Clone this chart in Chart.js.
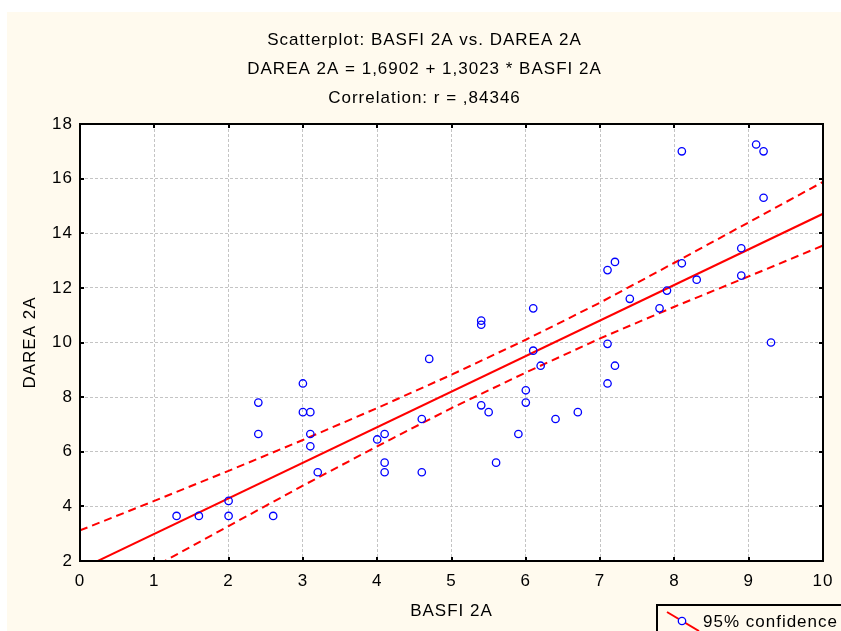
<!DOCTYPE html>
<html>
<head>
<meta charset="utf-8">
<title>Scatterplot: BASFI 2A vs. DAREA 2A</title>
<script src="https://cdn.jsdelivr.net/npm/chart.js@4.4.1/dist/chart.umd.min.js"></script>
<style>
  html, body { margin: 0; padding: 0; background: #ffffff; }
  canvas { display: block; }
</style>
</head>
<body>
<canvas id="chart" width="841" height="631"></canvas>
<script>
// Observations (BASFI 2A, DAREA 2A)
const basfi = [1.3, 1.6, 2.0, 2.0, 2.4, 2.4, 2.6, 3.0, 3.0, 3.1, 3.1, 3.1, 3.2,
               4.0, 4.1, 4.1, 4.1, 4.6, 4.6, 4.7, 5.4, 5.4, 5.4, 5.5, 5.6, 5.9,
               6.0, 6.0, 6.1, 6.1, 6.2, 6.4, 6.7, 7.1, 7.2, 7.1, 9.3, 7.8, 8.1,
               9.1, 9.2, 9.2, 8.9, 8.9, 8.1, 8.3, 7.9, 7.4, 7.1, 7.2];
const darea = [3.65, 3.65, 4.2, 3.65, 7.8, 6.65, 3.65, 8.5, 7.45, 7.45, 6.65, 6.2, 5.25,
               6.45, 6.65, 5.6, 5.25, 7.2, 5.25, 9.4, 10.8, 10.65, 7.7, 7.45, 5.6, 6.65,
               8.25, 7.8, 11.25, 9.7, 9.15, 7.2, 7.45, 9.95, 9.15, 8.5, 10.0, 11.25, 17.0,
               17.25, 17.0, 15.3, 13.45, 12.45, 12.9, 12.3, 11.9, 11.6, 12.65, 12.95];

// Fitted line: DAREA 2A = 1,6902 + 1,3023 * BASFI 2A
const intercept = 1.6902;
const slope = 1.3023;

// 95% confidence band of the fit
const bandX     = [0, 1, 2, 3, 4, 5, 6, 7, 8, 9, 10];
const bandUpper = [3.12, 4.20, 5.30, 6.43, 7.60, 8.82, 10.10, 11.46, 12.92, 14.40, 15.88];
const bandLower = [0.27, 1.79, 3.28, 4.76, 6.20, 7.60, 8.90, 10.15, 11.31, 12.42, 13.55];

// Axis ranges and text
const xRange = [0, 10, 1];
const yRange = [2, 18, 2];
const titleLines = ['Scatterplot: BASFI 2A vs. DAREA 2A',
                    'DAREA 2A = 1,6902 + 1,3023 * BASFI 2A',
                    'Correlation: r = ,84346'];
const xTitle = 'BASFI 2A';
const yTitle = 'DAREA 2A';
const legendText = '95% confidence';

const FONT = 'Liberation Sans, Arial, sans-serif';
const CREAM = '#fffaee';
const RED = '#ff0000';
const BLUE = '#0000ff';

const points = basfi.map((x, i) => ({ x: x, y: darea[i] }));
const fitLine = [
  { x: xRange[0], y: intercept + slope * xRange[0] },
  { x: xRange[1], y: intercept + slope * xRange[1] }
];
const upper = bandX.map((x, i) => ({ x: x, y: bandUpper[i] }));
const lower = bandX.map((x, i) => ({ x: x, y: bandLower[i] }));

// Slightly open letter spacing for all canvas text
const spacing = {
  id: 'spacing',
  beforeLayout(chart) { chart.ctx.letterSpacing = '1px'; },
  beforeDraw(chart) { chart.ctx.letterSpacing = '1px'; }
};

// Cream page with a white plotting area
const backdrop = {
  id: 'backdrop',
  beforeDraw(chart) {
    const { ctx, chartArea: a, width, height } = chart;
    ctx.save();
    ctx.fillStyle = CREAM;
    ctx.fillRect(7, 12, width - 7, height - 12);
    ctx.fillStyle = '#ffffff';
    ctx.fillRect(a.left, a.top, a.right - a.left, a.bottom - a.top);
    ctx.restore();
  }
};

// Black frame with inward tick marks on all four sides, plus the legend box
const frame = {
  id: 'frame',
  afterDraw(chart) {
    const { ctx, chartArea: a } = chart;
    const xs = chart.scales.x, ys = chart.scales.y;
    ctx.save();
    ctx.strokeStyle = '#000000';
    ctx.lineWidth = 2;
    ctx.strokeRect(a.left, a.top, a.right - a.left, a.bottom - a.top);
    ctx.beginPath();
    xs.ticks.forEach(t => {
      const px = Math.round(xs.getPixelForValue(t.value));
      ctx.moveTo(px, a.bottom); ctx.lineTo(px, a.bottom - 4);
      ctx.moveTo(px, a.top); ctx.lineTo(px, a.top + 4);
    });
    ys.ticks.forEach(t => {
      const py = Math.round(ys.getPixelForValue(t.value));
      ctx.moveTo(a.left, py); ctx.lineTo(a.left + 4, py);
      ctx.moveTo(a.right, py); ctx.lineTo(a.right - 4, py);
    });
    ctx.stroke();

    // legend
    const lx = 657, ly = 605;
    ctx.fillStyle = CREAM;
    ctx.fillRect(lx, ly, chart.width - lx + 5, chart.height - ly + 5);
    ctx.strokeStyle = '#000000';
    ctx.lineWidth = 2;
    ctx.strokeRect(lx, ly, chart.width - lx + 5, chart.height - ly + 5);
    ctx.strokeStyle = RED;
    ctx.beginPath();
    ctx.moveTo(667, 612);
    ctx.lineTo(699, 631);
    ctx.stroke();
    ctx.fillStyle = '#ffffff';
    ctx.strokeStyle = BLUE;
    ctx.lineWidth = 1.3;
    ctx.beginPath();
    ctx.arc(682, 621, 3.7, 0, Math.PI * 2);
    ctx.fill();
    ctx.stroke();
    ctx.fillStyle = '#000000';
    ctx.font = '17px ' + FONT;
    ctx.textBaseline = 'middle';
    ctx.textAlign = 'left';
    ctx.fillText(legendText, 703, 622);
    ctx.restore();
  }
};

new Chart(document.getElementById('chart'), {
  type: 'scatter',
  data: {
    datasets: [
      {
        label: 'Upper 95%',
        type: 'line',
        data: upper,
        borderColor: RED,
        borderWidth: 2,
        borderDash: [8, 5],
        pointRadius: 0,
        fill: false,
        clip: 0,
        order: 1
      },
      {
        label: 'Lower 95%',
        type: 'line',
        data: lower,
        borderColor: RED,
        borderWidth: 2,
        borderDash: [8, 5],
        pointRadius: 0,
        fill: false,
        clip: 0,
        order: 1
      },
      {
        label: 'Fit',
        type: 'line',
        data: fitLine,
        borderColor: RED,
        borderWidth: 2,
        pointRadius: 0,
        fill: false,
        clip: 0,
        order: 1
      },
      {
        label: 'DAREA 2A',
        data: points,
        pointStyle: 'circle',
        pointRadius: 3.7,
        pointBorderWidth: 1.3,
        borderColor: BLUE,
        backgroundColor: 'rgba(0,0,0,0)',
        clip: 0,
        order: 0
      }
    ]
  },
  options: {
    responsive: false,
    animation: false,
    devicePixelRatio: 1,
    layout: { padding: { left: 26, right: 18, top: 12, bottom: 0 } },
    plugins: {
      legend: { display: false },
      tooltip: { enabled: false },
      title: {
        display: true,
        text: titleLines,
        color: '#000000',
        font: { family: FONT, size: 17, weight: 'normal', lineHeight: 29 / 17 },
        padding: { top: 13.5, bottom: 11.5 }
      }
    },
    scales: {
      x: {
        type: 'linear',
        min: xRange[0],
        max: xRange[1],
        afterFit(scale) {
          scale.height = 70;
          scale.paddingLeft = 0;
          scale.paddingRight = 0;
        },
        ticks: {
          stepSize: xRange[2],
          color: '#000000',
          padding: 10,
          font: { family: FONT, size: 17 },
          maxRotation: 0
        },
        grid: { color: '#c4c4c4', lineWidth: 1, drawTicks: false },
        border: { display: false, dash: [3, 2] },
        title: {
          display: true,
          text: xTitle,
          color: '#000000',
          font: { family: FONT, size: 17 },
          padding: { top: 0, bottom: 9.8 }
        }
      },
      y: {
        type: 'linear',
        min: yRange[0],
        max: yRange[1],
        afterFit(scale) {
          scale.width = 54;
          scale.paddingTop = 0;
          scale.paddingBottom = 0;
        },
        ticks: {
          stepSize: yRange[2],
          color: '#000000',
          padding: 7,
          font: { family: FONT, size: 17 }
        },
        grid: { color: '#c4c4c4', lineWidth: 1, drawTicks: false },
        border: { display: false, dash: [3, 2] },
        title: {
          display: true,
          text: yTitle,
          color: '#000000',
          font: { family: FONT, size: 17 },
          padding: { top: -6.2, bottom: 0 }
        }
      }
    }
  },
  plugins: [spacing, backdrop, frame]
});
</script>
</body>
</html>
